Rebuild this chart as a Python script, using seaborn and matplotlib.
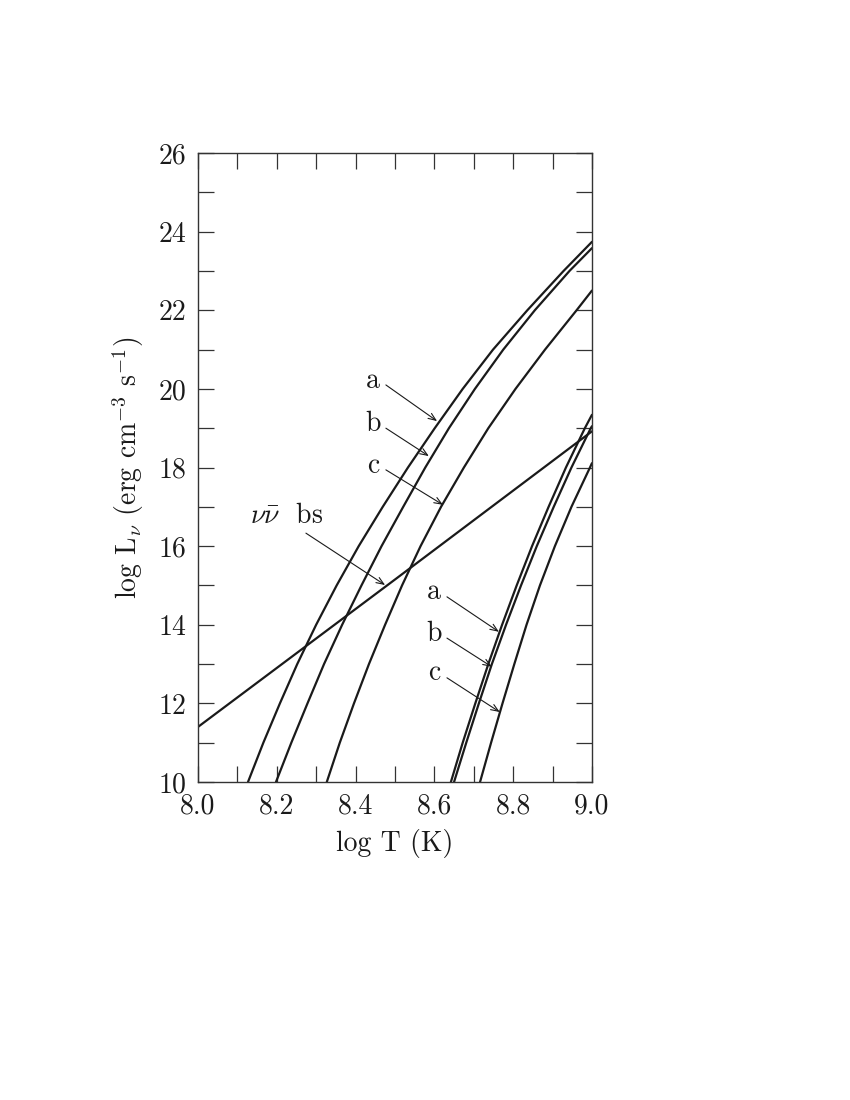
import numpy as np
import pandas as pd
import matplotlib
matplotlib.use("Agg")
import matplotlib.pyplot as plt
import seaborn as sns
from matplotlib.ticker import MultipleLocator

# ---------------- data ----------------
# upper family (a, b, c): log T where each curve reaches the listed log L
up_a_L = [10, 11, 12, 13, 14, 15, 16, 17, 18, 19, 20, 21, 22, 23, 23.74]
up_a_T = [8.127, 8.166, 8.208, 8.252, 8.300, 8.352, 8.408, 8.469, 8.533,
          8.601, 8.672, 8.749, 8.836, 8.928, 9.000]
up_b_L = [10, 11, 12, 13, 14, 15, 16, 17, 18, 19, 20, 21, 22, 23, 23.58]
up_b_T = [8.198, 8.237, 8.278, 8.320, 8.366, 8.415, 8.466, 8.521, 8.577,
          8.637, 8.703, 8.775, 8.855, 8.943, 9.000]
up_c_L = [10, 11, 12, 13, 14, 15, 16, 17, 18, 19, 20, 21, 22, 22.5]
up_c_T = [8.327, 8.360, 8.396, 8.434, 8.475, 8.518, 8.565, 8.617, 8.675,
          8.737, 8.806, 8.881, 8.961, 9.000]
# lower family (a, b, c)
lo_a_L = [10, 11, 12, 13, 14, 15, 16, 17, 18, 19, 19.34]
lo_a_T = [8.642, 8.672, 8.704, 8.737, 8.772, 8.809, 8.848, 8.890, 8.934,
          8.982, 9.000]
lo_b_L = [10, 11, 12, 13, 14, 15, 16, 17, 18, 19, 19.05]
lo_b_T = [8.650, 8.681, 8.713, 8.746, 8.782, 8.820, 8.860, 8.903, 8.948,
          8.997, 9.000]
lo_c_L = [10, 11, 12, 13, 14, 15, 16, 17, 18, 18.11]
lo_c_T = [8.716, 8.744, 8.773, 8.803, 8.834, 8.868, 8.906, 8.948, 8.995,
          9.000]
# neutrino bremsstrahlung line
bs_T = [8.0, 8.5, 9.0]
bs_L = [11.40, 15.15, 18.92]

series = {
    "up_a": (up_a_T, up_a_L), "up_b": (up_b_T, up_b_L), "up_c": (up_c_T, up_c_L),
    "lo_a": (lo_a_T, lo_a_L), "lo_b": (lo_b_T, lo_b_L), "lo_c": (lo_c_T, lo_c_L),
    "bs": (bs_T, bs_L),
}
frames = []
for name, (t, l) in series.items():
    frames.append(pd.DataFrame({"logT": t, "logL": l, "curve": name}))
df = pd.concat(frames, ignore_index=True)

# ---------------- style ----------------
sns.set_theme(style="ticks")
plt.rcParams["font.family"] = ["cmr10", "DejaVu Serif"]
plt.rcParams["mathtext.fontset"] = "cm"
plt.rcParams["axes.formatter.use_mathtext"] = True
plt.rcParams["axes.unicode_minus"] = False

FS = 20
fig = plt.figure(figsize=(8.5, 11), dpi=100)
ax = fig.add_axes([0.2329, 0.2891, 0.4635, 0.5718])

for name in series:
    sub = df[df["curve"] == name]
    sns.lineplot(data=sub, x="logT", y="logL", ax=ax, color="#1a1a1a",
                 linewidth=1.6, sort=False, estimator=None, legend=False)

ax.set_xlim(8.0, 9.0)
ax.set_ylim(10, 26)
ax.xaxis.set_major_locator(MultipleLocator(0.2))
ax.xaxis.set_minor_locator(MultipleLocator(0.1))
ax.yaxis.set_major_locator(MultipleLocator(2))
ax.yaxis.set_minor_locator(MultipleLocator(1))
ax.xaxis.set_major_formatter(matplotlib.ticker.FormatStrFormatter("%.1f"))
ax.yaxis.set_major_formatter(matplotlib.ticker.FormatStrFormatter("%d"))
ax.tick_params(which="both", direction="in", top=True, right=True,
               length=11.5, width=0.9, color="#333333")
ax.tick_params(which="major", labelsize=FS, labelcolor="#1a1a1a")
ax.tick_params(axis="x", which="major", pad=8)
ax.tick_params(axis="y", which="major", pad=8)
for sp in ax.spines.values():
    sp.set_linewidth(1.0)
    sp.set_color("#333333")

ax.set_xlabel("log T (K)", fontsize=FS, labelpad=7, color="#1a1a1a")
ax.set_ylabel(r"log L$_\nu$ (erg cm$^{-3}$ s$^{-1}$)", fontsize=FS,
              labelpad=9, color="#1a1a1a")

# ---------------- annotations ----------------
arrow = dict(arrowstyle="->,head_length=0.45,head_width=0.18", lw=0.8,
             color="#1a1a1a", shrinkA=0, shrinkB=0)
labels = [
    ("a", (8.444, 20.20), (8.477, 20.10), (8.607, 19.18)),
    ("b", (8.444, 19.10), (8.477, 19.00), (8.586, 18.29)),
    ("c", (8.444, 18.03), (8.477, 17.94), (8.622, 17.05)),
    ("a", (8.599, 14.83), (8.632, 14.71), (8.764, 13.82)),
    ("b", (8.599, 13.76), (8.632, 13.66), (8.746, 12.93)),
    ("c", (8.599, 12.77), (8.632, 12.65), (8.766, 11.78)),
]
for txt, tpos, start, end in labels:
    ax.text(*tpos, txt, fontsize=FS, ha="center", va="center", color="#1a1a1a")
    ax.annotate("", xy=end, xytext=start, arrowprops=arrow)

ax.text(8.226, 16.76, r"$\nu\bar{\nu}$  bs", fontsize=FS, ha="center",
        va="center", color="#1a1a1a")
ax.annotate("", xy=(8.475, 15.01), xytext=(8.274, 16.33), arrowprops=arrow)

fig.savefig("out.png", dpi=100)
